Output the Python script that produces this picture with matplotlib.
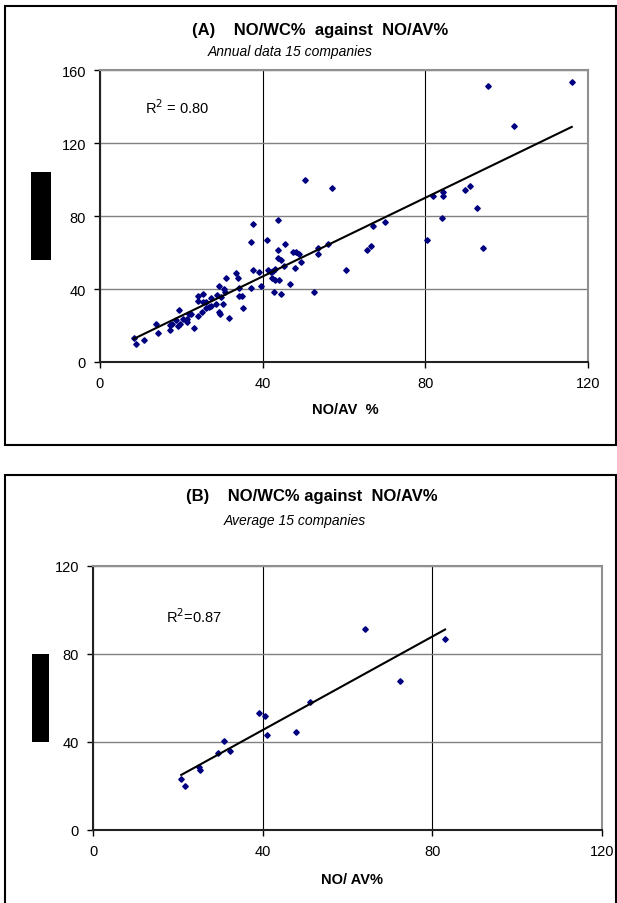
import numpy as np
import matplotlib.pyplot as plt
from matplotlib.patches import Rectangle

plt.rcParams['font.family'] = ['Liberation Sans', 'DejaVu Sans']

# -------------------------------------------------------------
# Data
# -------------------------------------------------------------

# (A) annual data, 15 companies: NO/AV % vs NO/WC %
a_x = [8.3, 8.8, 10.8, 13.7, 14.2, 17.2, 17.2, 17.6, 18.7, 19.2,
       19.5, 19.7, 20.3, 21.3, 21.3, 21.8, 22.4, 23.2, 24.1, 24.1,
       24.2, 25.3, 25.3, 26.1, 25.1, 26.1, 26.7, 27.2, 27.3, 28.6,
       28.8, 29.2, 29.2, 29.6, 29.8, 30.2, 30.4, 30.8, 31.7, 31.1,
       33.5, 33.9, 34.1, 34.2, 35.0, 35.2, 37.1, 37.2, 37.7, 37.7,
       39.1, 39.6, 41.1, 41.2, 42.0, 42.4, 42.6, 42.7, 43.1, 43.1,
       43.7, 43.7, 43.7, 44.1, 44.6, 44.6, 45.2, 45.5, 46.6, 47.5,
       48.0, 48.2, 48.9, 49.5, 50.5, 52.5, 53.5, 53.5, 56.0, 57.0,
       60.5, 65.6, 66.7, 67.2, 70.1, 80.5, 82.0, 84.0, 84.4, 84.4,
       89.8, 90.9, 92.8, 94.3, 95.3, 101.7, 116.0]
a_y = [13.2, 9.7, 12.1, 20.7, 16.1, 20.5, 17.6, 21.0, 22.9, 19.7,
       28.5, 20.7, 23.4, 22.1, 23.4, 26.3, 26.3, 18.7, 25.2, 33.3,
       36.2, 37.1, 33.1, 33.1, 27.6, 29.8, 30.4, 35.1, 30.7, 32.0,
       36.6, 41.7, 27.4, 26.5, 35.8, 31.6, 39.9, 38.6, 24.1, 45.9,
       48.5, 45.9, 40.8, 36.2, 36.2, 29.6, 40.6, 65.8, 75.7, 50.5,
       49.4, 41.7, 66.9, 50.5, 49.4, 46.3, 49.6, 38.6, 50.8, 45.0,
       61.3, 77.9, 57.0, 44.8, 55.8, 37.1, 52.7, 64.7, 42.8, 60.3,
       51.4, 60.3, 59.4, 55.0, 99.8, 38.4, 62.5, 59.2, 64.9, 95.4,
       50.5, 61.4, 63.6, 74.6, 76.8, 66.9, 91.1, 79.0, 93.3, 91.1,
       94.3, 96.5, 84.5, 62.5, 151.4, 129.5, 153.6]

# (B) average of the 15 companies
b_x = [20.8, 21.8, 25.1, 25.2, 29.5, 30.9, 32.3, 39.1, 40.5, 41.1,
       47.8, 51.1, 64.2, 72.4, 83.0]
b_y = [23.4, 20.0, 28.5, 27.4, 34.9, 40.3, 36.0, 53.1, 52.0, 43.4,
       44.6, 58.3, 91.2, 67.8, 86.9]

a_xticks = [0, 40, 80, 120]
a_yticks = [0, 40, 80, 120, 160]
b_xticks = [0, 40, 80, 120]
b_yticks = [0, 40, 80, 120]

navy = '#000080'

# -------------------------------------------------------------
# Figure
# -------------------------------------------------------------
W, H = 617, 904
fig = plt.figure(figsize=(W / 100, H / 100), dpi=100)


def px(x0, y0, x1, y1):
    # pixel box (top-left origin) -> figure fraction rect
    return [x0 / W, 1 - y1 / H, (x1 - x0) / W, (y1 - y0) / H]


def style(ax, xt, yt):
    ax.set_xlim(xt[0], xt[-1])
    ax.set_ylim(yt[0], yt[-1])
    ax.set_xticks(xt)
    ax.set_yticks(yt)
    ax.set_axisbelow(True)
    ax.yaxis.grid(True, color='#808080', lw=1.0)
    ax.xaxis.grid(True, color='black', lw=0.8)
    for s in ['left', 'bottom']:
        ax.spines[s].set_color('#222222')
        ax.spines[s].set_linewidth(1.5)
    for s in ['top', 'right']:
        ax.spines[s].set_color('#909090')
        ax.spines[s].set_linewidth(1.5)
    ax.tick_params(direction='out', length=4, width=1, labelsize=10.5, pad=6)


def scatter_fit(ax, x, y):
    x = np.array(x)
    y = np.array(y)
    ax.plot(x, y, 'D', color=navy, ms=2.8, mec=navy, zorder=3)
    k, b = np.polyfit(x, y, 1)
    xs = np.array([x.min(), x.max()])
    ax.plot(xs, k * xs + b, color='black', lw=1.5, zorder=4)


def frame(box, **kw):
    r = px(*box)
    fig.patches.append(Rectangle(r[:2], r[2], r[3], transform=fig.transFigure, **kw))


# panel frames
frame((5, 7, 616, 446), fill=False, ec='black', lw=1.5)
frame((5, 476, 616, 930), fill=False, ec='black', lw=1.5)

# redaction bars where the y labels were
frame((31, 173, 51, 261), fc='black', ec='none')
frame((32, 655, 49, 743), fc='black', ec='none')

# (A)
axA = fig.add_axes(px(100, 71, 588, 363))
style(axA, a_xticks, a_yticks)
scatter_fit(axA, a_x, a_y)
fig.text(320 / W, 1 - 30 / H, '(A)    NO/WC%  against  NO/AV%', ha='center',
         va='center', fontsize=12, fontweight='bold')
fig.text(290 / W, 1 - 52 / H, 'Annual data 15 companies', ha='center',
         va='center', fontsize=10, style='italic')
fig.text(345 / W, 1 - 410 / H, 'NO/AV  %', ha='center', va='center',
         fontsize=10.5, fontweight='bold')
fig.text(145 / W, 1 - 108 / H, 'R$^2$ = 0.80', ha='left', va='center',
         fontsize=10.5)

# (B)
axB = fig.add_axes(px(93, 567, 602, 831))
style(axB, b_xticks, b_yticks)
scatter_fit(axB, b_x, b_y)
fig.text(312 / W, 1 - 497 / H, '(B)    NO/WC% against  NO/AV%', ha='center',
         va='center', fontsize=12, fontweight='bold')
fig.text(295 / W, 1 - 521 / H, 'Average 15 companies', ha='center',
         va='center', fontsize=10, style='italic')
fig.text(352 / W, 1 - 880 / H, 'NO/ AV%', ha='center', va='center',
         fontsize=10.5, fontweight='bold')
fig.text(166 / W, 1 - 617 / H, 'R$^2$=0.87', ha='left', va='center',
         fontsize=10.5)

fig.savefig('out.png', dpi=100)
